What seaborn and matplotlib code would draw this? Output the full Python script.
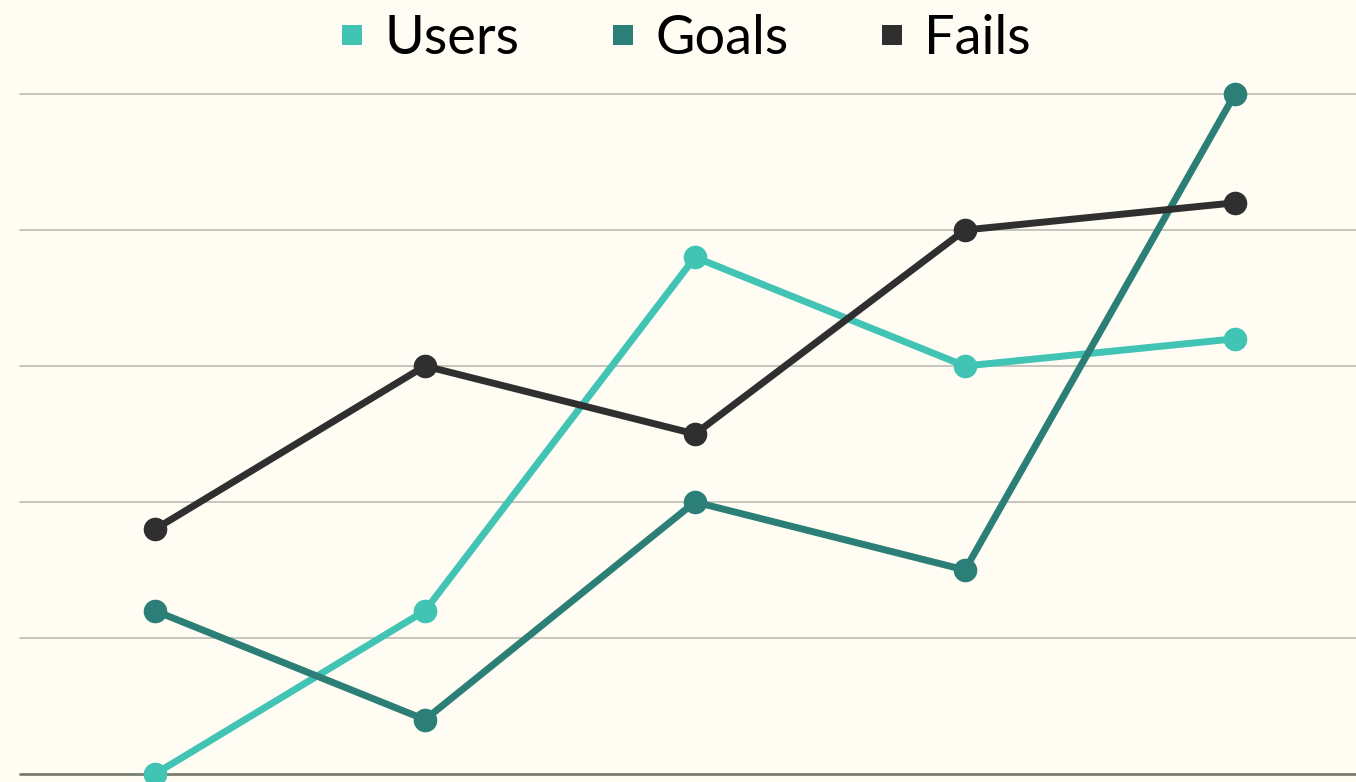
import matplotlib
matplotlib.use("Agg")
import matplotlib.pyplot as plt
import seaborn as sns
import pandas as pd
from matplotlib.lines import Line2D

categories = ["A", "B", "C", "D", "E"]
users = [0.0, 1.2, 3.8, 3.0, 3.2]
goals = [1.2, 0.4, 2.0, 1.5, 5.0]
fails = [1.8, 3.0, 2.5, 4.0, 4.2]
series_names = ["Users", "Goals", "Fails"]
colors = ["#42c4b4", "#2c7f76", "#2f2f2f"]

df = pd.DataFrame({
    "x": list(range(len(categories))) * 3,
    "value": users + goals + fails,
    "series": [s for s in series_names for _ in categories],
})

sns.set_theme(style="white")
plt.rcParams["font.family"] = ["Lato", "DejaVu Sans"]
bg = "#fefcf3"
fig = plt.figure(figsize=(13.56, 7.82), dpi=100, facecolor=bg)
ax = fig.add_axes([20 / 1356, 8 / 782, 1336 / 1356, 680 / 782])
ax.set_facecolor(bg)

for yv in [1, 2, 3, 4, 5]:
    ax.axhline(yv, color="#c4c2b8", lw=1.3, zorder=0)
ax.axhline(0, color="#7a7d72", lw=2, zorder=0)

sns.lineplot(data=df, x="x", y="value", hue="series", palette=colors,
             marker="o", markersize=17, markeredgewidth=0, linewidth=5.0,
             legend=False, ax=ax)
for ln in ax.lines:
    ln.set_clip_on(False)

ax.set_xlim(-0.5, -0.5 + 1336 / 270.0)
ax.set_ylim(0, 5)
ax.set_xticks([])
ax.set_yticks([])
ax.set_xlabel("")
ax.set_ylabel("")
for s in ax.spines.values():
    s.set_visible(False)

handles = [Line2D([], [], marker="s", linestyle="", markersize=14,
                  markerfacecolor=c, markeredgewidth=0) for c in colors]
fig.legend(handles, series_names, loc="upper center", bbox_to_anchor=(0.5, 1.045),
           ncol=3, frameon=False, fontsize=39, handletextpad=0.1,
           columnspacing=1.4, handlelength=1.0, labelcolor="#000000")

fig.savefig("out.png", dpi=100, facecolor=bg)
